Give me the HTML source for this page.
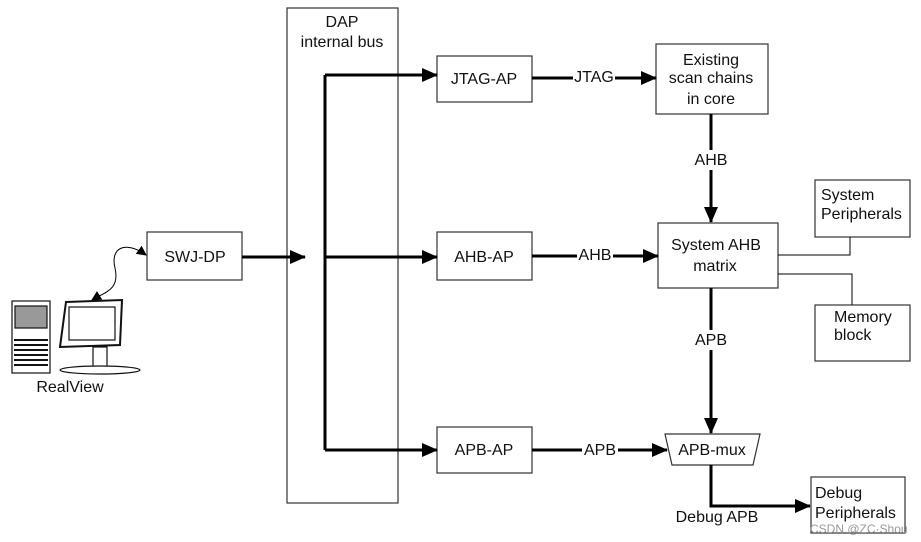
<!DOCTYPE html>
<html><head><style>
html,body{margin:0;padding:0;background:#fff;}
svg{display:block;font-family:"Liberation Sans",sans-serif;}
text{font-size:16px;fill:#111;}
</style></head><body>
<svg width="921" height="542" viewBox="0 0 921 542">
<defs>
<marker id="a" markerWidth="10" markerHeight="10" refX="9" refY="5" orient="auto" markerUnits="userSpaceOnUse" viewBox="0 0 10 10"><path d="M0,0 L10,5 L0,10 z" fill="#000"/></marker>
<marker id="s" markerWidth="10" markerHeight="10" refX="1" refY="5" orient="auto" markerUnits="userSpaceOnUse" viewBox="0 0 10 10"><path d="M10,0 L0,5 L10,10 z" fill="#000"/></marker>
<marker id="b" markerWidth="16" markerHeight="14" refX="15" refY="7" orient="auto" markerUnits="userSpaceOnUse" viewBox="0 0 16 14"><path d="M0,0 L16,7 L0,14 z" fill="#000"/></marker>
</defs>
<g fill="#fff" stroke="#333" stroke-width="1.2">
<rect x="287" y="8" width="111" height="495"/>
<rect x="147" y="232" width="95" height="48"/>
<rect x="437" y="56" width="95" height="46"/>
<rect x="437" y="232" width="95" height="48"/>
<rect x="437" y="427" width="95" height="46"/>
<rect x="656" y="44" width="112" height="70"/>
<rect x="658" y="223" width="120" height="65"/>
<rect x="815" y="180" width="95" height="57"/>
<rect x="815" y="305" width="95" height="56"/>
<rect x="811" y="477" width="94" height="56"/>
<path d="M665,434 L760,434 L753,465 L672,465 Z"/>
</g>
<g stroke="#000" stroke-width="3" fill="none">
<line x1="242" y1="257" x2="305" y2="257" marker-end="url(#b)"/>
<line x1="325" y1="75" x2="325" y2="450"/>
<line x1="325" y1="75" x2="437" y2="75" marker-end="url(#b)"/>
<line x1="325" y1="257" x2="437" y2="257" marker-end="url(#b)"/>
<line x1="325" y1="450" x2="437" y2="450" marker-end="url(#b)"/>
<line x1="532" y1="78" x2="656" y2="78" marker-end="url(#b)"/>
<line x1="532" y1="256" x2="658" y2="256" marker-end="url(#b)"/>
<line x1="532" y1="450" x2="667" y2="450" marker-end="url(#b)"/>
<line x1="711" y1="114" x2="711" y2="222" marker-end="url(#b)"/>
<line x1="711" y1="288" x2="711" y2="433" marker-end="url(#b)"/>
<polyline points="711,465 711,506 810,506" marker-end="url(#b)"/>
</g>
<g stroke="#000" stroke-width="1" fill="none">
<polyline points="778,255 850,255 850,237"/>
<polyline points="778,274 852,274 852,305"/>
<path d="M146,255 C125,240 110,248 115,268 C120,290 105,292 92,300" marker-start="url(#s)" marker-end="url(#a)"/>
</g>
<g fill="#fff">
<rect x="573" y="68" width="42" height="18"/>
<rect x="577" y="246" width="36" height="18"/>
<rect x="582" y="440" width="36" height="18"/>
<rect x="692" y="150" width="38" height="20"/>
<rect x="692" y="330" width="38" height="20"/>
</g>
<g stroke="#111" stroke-width="1.2">
<rect x="12" y="301" width="38" height="72" fill="#fff"/>
<rect x="15" y="306" width="32" height="22" fill="#999"/>
<g stroke-width="2"><line x1="14" y1="340" x2="48" y2="340"/><line x1="14" y1="345" x2="48" y2="345"/><line x1="14" y1="350" x2="48" y2="350"/><line x1="14" y1="355" x2="48" y2="355"/><line x1="14" y1="360" x2="48" y2="360"/><line x1="14" y1="365" x2="48" y2="365"/></g>
<path d="M66,302 L122,300 L120,345 L60,347 Z" fill="#fff" stroke-width="2"/>
<rect x="69" y="307" width="46" height="33" fill="#fff"/>
<rect x="93" y="347" width="14" height="20" fill="#fff"/>
<ellipse cx="100" cy="370" rx="40" ry="4" fill="#fff"/>
</g>
<g text-anchor="middle">
<text x="342" y="27">DAP</text>
<text x="342" y="47">internal bus</text>
<text x="195" y="262">SWJ-DP</text>
<text x="484" y="84">JTAG-AP</text>
<text x="484" y="262">AHB-AP</text>
<text x="484" y="455">APB-AP</text>
<text x="594" y="82">JTAG</text>
<text x="595" y="260">AHB</text>
<text x="600" y="455">APB</text>
<text x="711" y="65">Existing</text>
<text x="711" y="83">scan chains</text>
<text x="711" y="104">in core</text>
<text x="711" y="165">AHB</text>
<text x="716" y="250">System AHB</text>
<text x="715" y="271">matrix</text>
<text x="711" y="345">APB</text>
<text x="712" y="455">APB-mux</text>
<text x="717" y="522">Debug APB</text>
<text x="70" y="392">RealView</text>
</g>
<text x="821" y="200">System</text>
<text x="821" y="219">Peripherals</text>
<text x="834" y="322">Memory</text>
<text x="834" y="340">block</text>
<text x="815" y="498">Debug</text>
<text x="815" y="518">Peripherals</text>
<text x="810" y="533" style="font-size:12px;fill:#999">CSDN @ZC·Shou</text>
</svg>
</body></html>
